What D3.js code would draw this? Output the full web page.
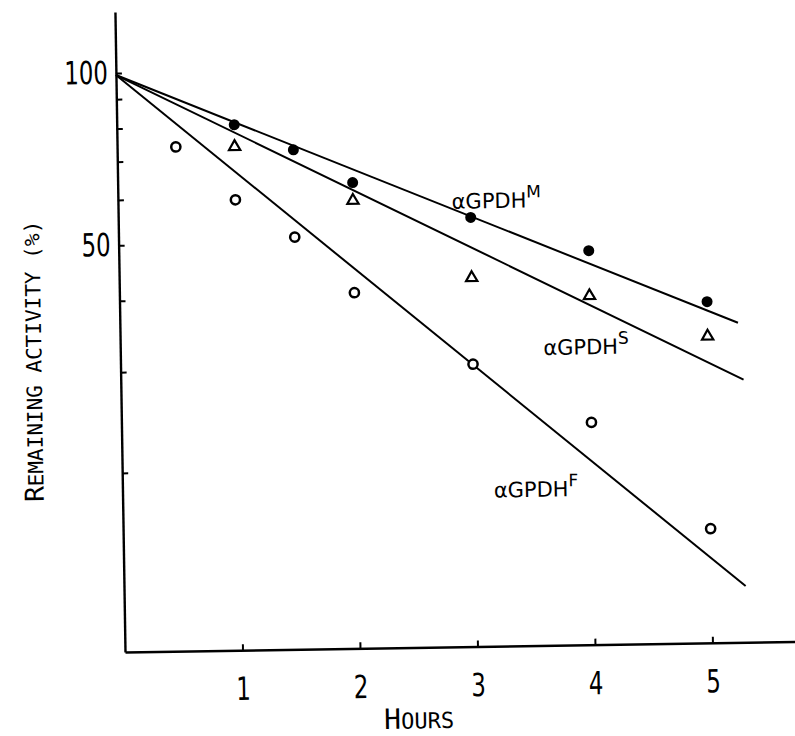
<!DOCTYPE html>
<html lang="en">
<head>
    <meta charset="UTF-8">
    <title>Remaining activity</title>
    <script src="https://cdnjs.cloudflare.com/ajax/libs/d3/7.9.0/d3.min.js"></script>
    <style>
        body { margin: 0; background: white; }
        svg { display: block; }
        .tick-num { font-family: "Liberation Sans Narrow", "DejaVu Sans Condensed", sans-serif; }
        .mono { font-family: "DejaVu Sans Mono", monospace; }
        .lbl { font-family: "DejaVu Sans", sans-serif; }
    </style>
</head>
<body>
    <svg width="795" height="736"></svg>

    <script>
        // hours after start, remaining activity (%)
        const hoursM = [1, 1.5, 2, 3, 4, 5];
        const activityM = [80.6, 72.6, 63.4, 54.7, 47.5, 38.4];

        const hoursS = [1, 2, 3, 4, 5];
        const activityS = [73.8, 59.0, 42.9, 39.6, 33.4];

        const hoursF = [0.5, 1, 1.5, 2, 3, 4, 5];
        const activityF = [74.0, 59.6, 51.1, 40.7, 30.3, 23.8, 15.4];

        // fitted lines (start / end)
        const fitHoursM = [0, 5.26], fitActivityM = [99.2, 35.2];
        const fitHoursS = [0, 5.30], fitActivityS = [99.2, 28.0];
        const fitHoursF = [0, 5.29], fitActivityF = [99.2, 12.2];

        const xTicks = [1, 2, 3, 4, 5];
        const yTicks = [100, 90, 80, 70, 60, 50, 40, 30, 20];
        const yLabels = [100, 50];

        const svg = d3.select("svg");

        const x = d3.scaleLinear().domain([0, 5.7]).range([125, 125 + 117.5 * 5.7]);
        const y = d3.scaleLog().domain([9.73, 127.8]).range([652, 12]);

        // the scanned figure is tilted a little
        const g = svg.append("g").attr("transform", "rotate(-0.9, 125, 652)");

        const yAxis = g.append("g")
            .attr("transform", "translate(125,0)")
            .call(d3.axisLeft(y)
                .tickValues(yTicks)
                .tickSize(-6)
                .tickSizeOuter(0)
                .tickPadding(8)
                .tickFormat(d => yLabels.includes(d) ? String(d) : ""));

        const xAxis = g.append("g")
            .attr("transform", "translate(0,652)")
            .call(d3.axisBottom(x)
                .tickValues(xTicks)
                .tickSize(-6)
                .tickSizeOuter(0)
                .tickPadding(27)
                .tickFormat(d3.format("d")));

        [yAxis, xAxis].forEach(a => {
            a.select(".domain").attr("stroke", "#000").attr("stroke-width", 2.4);
            a.selectAll(".tick line").attr("stroke", "#000").attr("stroke-width", 2);
            a.selectAll(".tick text")
                .attr("class", "tick-num")
                .attr("font-size", 32)
                .attr("fill", "#000")
                .each(function () {
                    const n = this.textContent.length;
                    if (n) d3.select(this).attr("textLength", n * 14.5).attr("lengthAdjust", "spacingAndGlyphs");
                });
        });

        // fitted lines
        const line = d3.line().x(d => x(d[0])).y(d => y(d[1]));
        [[fitHoursM, fitActivityM], [fitHoursS, fitActivityS], [fitHoursF, fitActivityF]].forEach(([hs, as]) => {
            g.append("path")
                .datum(hs.map((h, i) => [h, as[i]]))
                .attr("d", line)
                .attr("fill", "none")
                .attr("stroke", "#000")
                .attr("stroke-width", 2);
        });

        // points
        g.selectAll(".ptM")
            .data(hoursM.map((h, i) => [h, activityM[i]]))
            .enter().append("circle")
            .attr("class", "ptM")
            .attr("cx", d => x(d[0]))
            .attr("cy", d => y(d[1]))
            .attr("r", 5.5)
            .attr("fill", "#000");

        g.selectAll(".ptS")
            .data(hoursS.map((h, i) => [h, activityS[i]]))
            .enter().append("path")
            .attr("class", "ptS")
            .attr("transform", d => `translate(${x(d[0])},${y(d[1])})`)
            .attr("d", d3.symbol(d3.symbolTriangle, 55))
            .attr("fill", "white")
            .attr("stroke", "#000")
            .attr("stroke-width", 2.2);

        g.selectAll(".ptF")
            .data(hoursF.map((h, i) => [h, activityF[i]]))
            .enter().append("circle")
            .attr("class", "ptF")
            .attr("cx", d => x(d[0]))
            .attr("cy", d => y(d[1]))
            .attr("r", 4.6)
            .attr("fill", "white")
            .attr("stroke", "#000")
            .attr("stroke-width", 2.5);

        // series labels
        const labels = [
            { sup: "M", h: 2.84, a: 56.7 },
            { sup: "S", h: 3.60, a: 31.3 },
            { sup: "F", h: 3.16, a: 17.7 }
        ];
        labels.forEach(l => {
            const t = g.append("text")
                .attr("class", "lbl")
                .attr("x", x(l.h))
                .attr("y", y(l.a))
                .attr("font-size", 21)
                .attr("fill", "#000");
            t.append("tspan").text("\u03b1GPDH");
            t.append("tspan").attr("font-size", 17).attr("dy", -10).text(l.sup);
        });

        // axis titles
        const yt = g.append("text")
            .attr("class", "mono")
            .attr("transform", "translate(46,360) rotate(-90)")
            .attr("text-anchor", "middle")
            .attr("fill", "#000");
        yt.append("tspan").attr("font-size", 26).text("R");
        yt.append("tspan").attr("font-size", 21).text("EMAINING ACTIVITY (%)");

        const xt = g.append("text")
            .attr("class", "mono")
            .attr("x", 418)
            .attr("y", 733)
            .attr("text-anchor", "middle")
            .attr("fill", "#000");
        xt.append("tspan").attr("font-size", 28).text("H");
        xt.append("tspan").attr("font-size", 22).text("OURS");
    </script>
</body>
</html>
